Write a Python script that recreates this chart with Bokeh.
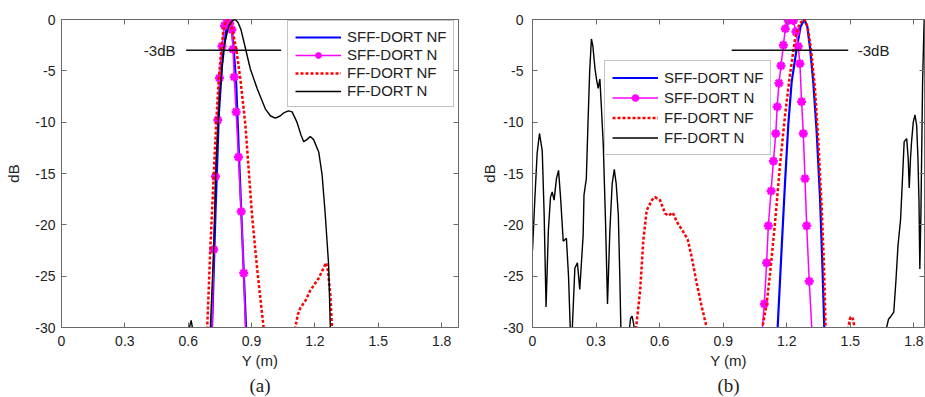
from bokeh.plotting import figure
from bokeh.layouts import row
from bokeh.models import FixedTicker, LinearAxis, Range1d, Legend, LegendItem, Title
from bokeh.core.properties import value
from bokeh.embed import file_html
from bokeh.resources import INLINE

# ---------------- data ----------------
x_ticks = [0, 0.3, 0.6, 0.9, 1.2, 1.5, 1.8]
x_tick_labels = ["0", "0.3", "0.6", "0.9", "1.2", "1.5", "1.8"]
y_ticks = [-30, -25, -20, -15, -10, -5, 0]
y_tick_labels = ["-30", "-25", "-20", "-15", "-10", "-5", "0"]
series_names = ["SFF-DORT NF", "SFF-DORT N", "FF-DORT NF", "FF-DORT N"]

# panel (a)
a_sff_nf_x = [0.705, 0.713, 0.729, 0.745, 0.760, 0.773, 0.783, 0.792, 0.805, 0.815, 0.827, 0.839, 0.855, 0.874, 0.880]
a_sff_nf_y = [-36, -30, -19.0, -9.3, -4.5, -2.2, -0.5, 0.0, -0.6, -2.8, -6.1, -12.5, -20.6, -30, -34]

a_sff_n_x = [0.713, 0.721, 0.729, 0.740, 0.748, 0.760, 0.772, 0.784, 0.797, 0.807, 0.812, 0.818, 0.827, 0.838, 0.851, 0.863, 0.871]
a_sff_n_y = [-30, -22.4, -15.3, -9.8, -5.7, -2.6, -0.6, 0.0, -0.4, -1.0, -2.9, -5.6, -9.0, -13.4, -18.7, -24.7, -30]

a_ff_nf_x = [0.660, 0.690, 0.705, 0.721, 0.732, 0.745, 0.757, 0.770, 0.784, 0.797, 0.808, 0.827, 0.847, 0.871, 0.887, 0.902, 0.926, 0.957, 0.980,
             1.080, 1.107, 1.120, 1.131, 1.155, 1.178, 1.218, 1.253, 1.262, 1.273, 1.281, 1.290]
a_ff_nf_y = [-36, -30, -22.2, -15.1, -10.3, -5.8, -2.8, -0.6, 0.0, -0.2, -0.9, -2.8, -5.8, -10.3, -14.8, -19.0, -24.2, -30, -35,
             -35, -30, -28.7, -28.1, -27.4, -26.4, -25.2, -23.7, -24.5, -26.8, -30, -35]

a_ff_n_x = [0.550, 0.600, 0.614, 0.628, 0.660, 0.700, 0.705, 0.721, 0.732, 0.748, 0.768, 0.792, 0.810, 0.823, 0.836, 0.850, 0.871, 0.894, 0.926,
            0.965, 0.990, 1.013, 1.035, 1.052, 1.075, 1.092, 1.115, 1.135, 1.147, 1.162, 1.178, 1.194, 1.218, 1.234, 1.249, 1.265, 1.273, 1.280]
a_ff_n_y = [-40, -30.5, -29.3, -31, -40, -34, -30, -22.2, -14.2, -7.7, -2.8, -0.6, -0.1, 0.0, -0.3, -1.0, -2.8, -4.8, -6.7,
            -8.7, -9.4, -9.6, -9.4, -9.1, -8.9, -9.0, -10.0, -11.3, -11.9, -11.7, -11.4, -11.7, -12.9, -15.1, -19.0, -23.9, -30, -36]

a_thr_x = [0.59, 1.04]
a_thr_y = [-3, -3]

# panel (b)
b_sff_nf_x = [1.150, 1.157, 1.176, 1.192, 1.207, 1.223, 1.247, 1.265, 1.283, 1.297, 1.310, 1.325, 1.341, 1.357, 1.368, 1.377, 1.382]
b_sff_nf_y = [-36, -30, -22.2, -15.8, -10.3, -6.1, -2.8, -0.7, 0.0, -0.7, -2.8, -6.1, -10.9, -17.4, -23.9, -30, -34]

b_sff_n_x = [1.080, 1.085, 1.094, 1.105, 1.113, 1.126, 1.137, 1.148, 1.155, 1.163, 1.173, 1.184, 1.193, 1.207, 1.218, 1.231,
             1.243, 1.254, 1.262, 1.270, 1.278, 1.286, 1.294, 1.306, 1.318, 1.322]
b_sff_n_y = [-36, -30, -27.7, -23.7, -20.1, -16.7, -13.8, -11.1, -8.5, -6.2, -4.5, -2.5, -0.9, -0.1, 0.0, -0.1,
             -1.2, -2.6, -4.3, -8.0, -11.1, -15.5, -20.1, -25.5, -30, -34]

b_ff_nf_x = [0.470, 0.489, 0.508, 0.523, 0.539, 0.563, 0.578, 0.602, 0.626, 0.641, 0.662, 0.681, 0.712, 0.732, 0.751, 0.775, 0.799, 0.822, 0.840,
             1.070, 1.085, 1.105, 1.121, 1.145, 1.168, 1.192, 1.215, 1.239, 1.260, 1.283, 1.298, 1.314, 1.333, 1.349, 1.365, 1.376, 1.383, 1.390,
             1.480, 1.490, 1.500, 1.510, 1.520, 1.530]
b_ff_nf_y = [-36, -30, -26.4, -21.5, -18.6, -17.6, -17.3, -17.6, -18.9, -19.1, -18.8, -19.7, -20.7, -21.4, -23.1, -25.7, -28.0, -30, -36,
             -36, -30, -27.7, -24.8, -19.7, -14.2, -9.3, -5.4, -1.9, -0.4, 0.0, -0.7, -2.8, -6.7, -11.9, -18.4, -24.2, -30, -36,
             -36, -30, -29.0, -29.0, -30, -36]

b_ff_n_x = [0.000, 0.011, 0.022, 0.033, 0.046, 0.055, 0.064, 0.075, 0.085, 0.093, 0.102, 0.113, 0.123, 0.133, 0.145, 0.160, 0.170, 0.178,
            0.183, 0.188, 0.200, 0.212, 0.223, 0.233, 0.239, 0.243, 0.254, 0.262, 0.270, 0.278, 0.285, 0.295, 0.302, 0.310, 0.318, 0.325,
            0.334, 0.345, 0.354, 0.365, 0.376, 0.386, 0.395, 0.405, 0.412, 0.417, 0.425, 0.452, 0.458, 0.463, 0.470, 0.476, 0.480, 0.490,
            1.650, 1.671, 1.680, 1.692, 1.705, 1.715, 1.725, 1.737, 1.745, 1.754, 1.766, 1.773, 1.778, 1.784, 1.789, 1.797, 1.805, 1.813,
            1.819, 1.824, 1.828, 1.833, 1.841, 1.849, 1.860]
b_ff_n_y = [-22.5, -17.5, -13.0, -11.1, -12.8, -19.0, -28.0, -20.5, -17.3, -16.8, -17.6, -15.5, -14.7, -17.5, -21.6, -21.3, -25.0, -30,
            -31.5, -30, -24.2, -23.7, -26.3, -23.0, -21.0, -17.1, -15.5, -10.0, -5.0, -1.9, -2.6, -4.8, -5.8, -6.7, -5.8, -8.5,
            -12.2, -20.0, -27.7, -20.6, -16.0, -14.6, -16.0, -19.0, -25.0, -30, -36, -36, -30, -29.1, -28.9, -29.5, -30, -36,
            -36, -30, -29.2, -28.9, -28.5, -25.5, -22.0, -19.5, -16.0, -11.9, -11.6, -13.5, -16.4, -13.5, -11.9, -10.0, -9.3, -10.3,
            -13.5, -17.7, -24.3, -19.0, -6.1, 0.5, 2.0]

b_thr_x = [0.94, 1.49]
b_thr_y = [-3, -3]

# ---------------- styling ----------------
FONT = "Liberation Sans"
FRAME = "#6a6a6a"
TXT = "#222222"


def style_axis(ax, ticks, labels, size="14px", standoff=6):
    ax.ticker = FixedTicker(ticks=ticks)
    ax.major_label_overrides = {t: l for t, l in zip(ticks, labels)}
    ax.major_tick_in = 5
    ax.major_tick_out = 0
    ax.minor_tick_line_color = None
    ax.axis_line_color = FRAME
    ax.major_tick_line_color = FRAME
    ax.major_label_text_font = FONT
    ax.major_label_text_font_size = size
    ax.major_label_text_color = TXT
    ax.major_label_standoff = standoff
    ax.axis_label_text_font = FONT
    ax.axis_label_text_font_size = "15px"
    ax.axis_label_text_font_style = "normal"
    ax.axis_label_text_color = TXT


def make_panel(width, xmax, bl, br, caption, data, thr_x, thr_y, lbl_x, lbl_align,
               leg_loc, leg_row, ylab_standoff, ytick_standoff):
    p = figure(width=width, height=397, x_range=Range1d(0, xmax), y_range=Range1d(-30, 0),
               output_backend="svg", toolbar_location=None,
               min_border_left=bl, min_border_right=br, min_border_top=19, min_border_bottom=70)
    p.xgrid.visible = False
    p.ygrid.visible = False
    p.outline_line_color = FRAME
    p.outline_line_width = 1
    p.background_fill_color = "white"
    p.border_fill_color = "white"

    style_axis(p.xaxis[0], x_ticks, x_tick_labels, standoff=8)
    style_axis(p.yaxis[0], y_ticks, y_tick_labels, standoff=ytick_standoff)
    p.xaxis[0].axis_label = "Y (m)"
    p.xaxis[0].axis_label_standoff = 3
    p.yaxis[0].axis_label = "dB"
    p.yaxis[0].axis_label_standoff = ylab_standoff

    # tick marks on the top and right edges of the box (no labels)
    for loc, ticks in (("above", x_ticks), ("right", y_ticks)):
        ax = LinearAxis(ticker=FixedTicker(ticks=ticks),
                        major_label_overrides={t: "" for t in ticks},
                        major_label_text_font_size="14px",
                        major_tick_in=5, major_tick_out=0, major_label_standoff=0,
                        axis_line_color=None, major_tick_line_color=FRAME,
                        minor_tick_line_color=None)
        p.add_layout(ax, loc)

    (sx1, sy1), (sx2, sy2), (fx1, fy1), (fx2, fy2) = data
    r1 = p.line(sx1, sy1, line_color="#0000ff", line_width=2.2)
    r2 = p.line(sx2, sy2, line_color="#ff00ff", line_width=1.5)
    k = 1 if sy2[0] == -30 else 2
    r2s = p.scatter(sx2[k:-k], sy2[k:-k], marker="asterisk", size=9,
                    line_color="#ff00ff", line_width=2.5)
    r3 = p.line(fx1, fy1, line_color="#ff0000", line_width=2.5, line_dash="3 2")
    r4 = p.line(fx2, fy2, line_color="#000000", line_width=1.4)

    p.line(thr_x, thr_y, line_color="#111111", line_width=1.5)
    p.text(x=[lbl_x], y=[-3], text=["-3dB"], text_font=value(FONT), text_font_size="15px",
           text_align=lbl_align, text_baseline="middle", text_color=TXT)

    items = [LegendItem(label=series_names[0], renderers=[r1]),
             LegendItem(label=series_names[1], renderers=[r2, r2s]),
             LegendItem(label=series_names[2], renderers=[r3]),
             LegendItem(label=series_names[3], renderers=[r4])]
    leg = Legend(items=items, location=leg_loc, glyph_width=46, glyph_height=leg_row,
                 label_height=leg_row, spacing=1, padding=7, margin=0, label_standoff=6,
                 border_line_color="#8a8a8a", border_line_width=1,
                 label_text_font=FONT, label_text_font_size="15px", label_text_color=TXT,
                 background_fill_color="white", background_fill_alpha=1.0)
    p.add_layout(leg)

    p.add_layout(Title(text=caption, align="center", text_font="Liberation Serif",
                       text_font_size="19px", text_font_style="normal", text_color=TXT,
                       standoff=3, offset=0), "below")
    return p


p1 = make_panel(470, 1.88, 61, 12, "(a)",
                [(a_sff_nf_x, a_sff_nf_y), (a_sff_n_x, a_sff_n_y), (a_ff_nf_x, a_ff_nf_y), (a_ff_n_x, a_ff_n_y)],
                a_thr_x, a_thr_y, 0.54, "right", (226, 220), 16, 10, 6)
p2 = make_panel(455, 1.85, 62, 1, "(b)",
                [(b_sff_nf_x, b_sff_nf_y), (b_sff_n_x, b_sff_n_y), (b_ff_nf_x, b_ff_nf_y), (b_ff_n_x, b_ff_n_y)],
                b_thr_x, b_thr_y, 1.535, "left", (72, 172), 19, 2, 9)

layout = row(p1, p2)
open("out.html", "w").write(file_html(layout, INLINE))
